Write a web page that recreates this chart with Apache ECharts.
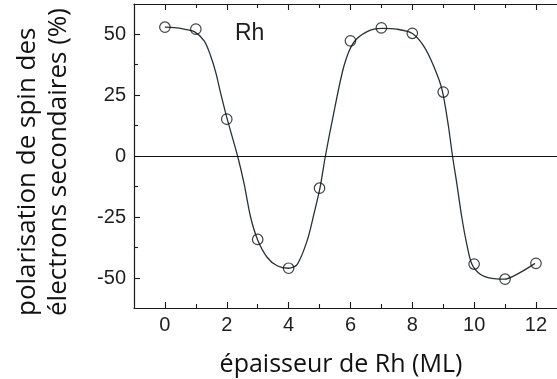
<!DOCTYPE html>
<html>
<head>
<meta charset="utf-8">
<script src="https://cdn.jsdelivr.net/npm/echarts@6/dist/echarts.min.js"></script>
<style>
html, body { margin: 0; padding: 0; background: #fff; }
#chart { width: 557px; height: 379px; }
</style>
</head>
<body>
<div id="chart"></div>
<script>
// mesures (cercles)
const dotX = [0, 1, 2, 3, 4, 5, 6, 7, 8, 9, 10, 11, 12];
const dotY = [52.8, 52, 15.1, -34.2, -46, -13.2, 47.2, 52.5, 50.3, 26.2, -44.3, -50.5, -44];

// courbe lissée
const curveX = [0, 0.3, 0.62, 0.95, 1.27, 1.48, 1.65, 1.8, 2.02, 2.35, 2.56, 2.77, 3.0, 3.31, 3.63, 4.0,
    4.28, 4.6, 4.82, 5.01, 5.19, 5.46, 5.79, 6.1, 6.54, 7.02, 7.5, 7.99, 8.36, 8.69, 8.96, 9.17,
    9.3, 9.44, 9.6, 9.76, 9.93, 10.2, 10.57, 10.97, 11.48, 11.97];
const curveY = [52.8, 52.6, 52, 51, 47.2, 41, 34, 25.9, 14.9, 0, -11.3, -25, -34.4, -41.6, -45, -46,
    -44.4, -34.7, -23.7, -13.4, 0, 17.6, 36.9, 46.5, 51, 52.3, 52, 50.3, 45.2, 36.9, 27.3, 12.1,
    0, -11.3, -25, -36, -44.4, -48.5, -50.2, -50.5, -47.8, -44];

const xMajorTicks = [0, 2, 4, 6, 8, 10, 12];
const xMinorTicks = [1, 3, 5, 7, 9, 11];
const yMajorTicks = [-50, -25, 0, 25, 50];
const yMinorTicks = [-37.5, -12.5, 12.5, 37.5];

let chart = echarts.init(document.getElementById('chart'));

const axisColor = '#1a1a1a';
const labelFont = {
    fontFamily: 'Liberation Sans',
    fontSize: 20,
    color: '#1e1e1e'
};

function xAx(pos, ticks, len, showLine, showLabel) {
    return {
        type: 'value',
        position: pos,
        min: -1,
        max: 12.68,
        axisLine: { show: showLine, onZero: false, lineStyle: { color: axisColor, width: 1.2 } },
        axisTick: { show: true, inside: true, length: len, customValues: ticks, lineStyle: { color: axisColor, width: 1.1 } },
        axisLabel: Object.assign({ show: showLabel, customValues: ticks, margin: 7 }, labelFont),
        splitLine: { show: false }
    };
}

function yAx(ticks, len, showLine, showLabel) {
    return {
        type: 'value',
        position: 'left',
        min: -62.3,
        max: 62.3,
        axisLine: { show: showLine, onZero: false, lineStyle: { color: axisColor, width: 1.2 } },
        axisTick: { show: true, inside: true, length: len, customValues: ticks, lineStyle: { color: axisColor, width: 1.1 } },
        axisLabel: Object.assign({ show: showLabel, customValues: ticks, margin: 8 }, labelFont),
        splitLine: { show: false }
    };
}

let option = {
    backgroundColor: '#fff',
    animation: false,
    grid: {
        left: 134,
        right: 0,
        top: 4,
        bottom: 71
    },
    xAxis: [
        xAx('bottom', xMajorTicks, 6, true, true),
        xAx('bottom', xMinorTicks, 4, false, false),
        xAx('top', xMajorTicks, 6, true, false),
        xAx('top', xMinorTicks, 4, false, false)
    ],
    yAxis: [
        yAx(yMajorTicks, 6, true, true),
        yAx(yMinorTicks, 4, false, false)
    ],
    graphic: [
        {
            type: 'text',
            left: 235,
            top: 22,
            style: { text: 'Rh', font: '23px "Liberation Sans"', fill: '#1e1e1e' }
        },
        {
            type: 'text',
            x: 43,
            y: 316,
            rotation: Math.PI / 2,
            style: {
                text: 'polarisation de spin des\nélectrons secondaires (%)',
                font: '26px "Open Sans"',
                fill: '#111',
                align: 'left',
                verticalAlign: 'middle',
                lineHeight: 31
            }
        },
        {
            type: 'text',
            x: 341,
            y: 365,
            style: {
                text: 'épaisseur de Rh (ML)',
                font: '25px "Open Sans"',
                fill: '#111',
                align: 'center',
                verticalAlign: 'middle'
            }
        }
    ],
    series: [
        {
            name: 'ajustement',
            type: 'line',
            xAxisIndex: 0,
            yAxisIndex: 0,
            data: curveX.map((x, i) => [x, curveY[i]]),
            showSymbol: false,
            smooth: 0.3,
            lineStyle: { color: '#263238', width: 1.3 },
            markLine: {
                silent: true,
                symbol: ['none', 'none'],
                label: { show: false },
                lineStyle: { color: '#111', type: 'solid', width: 1.2 },
                data: [{ yAxis: 0 }]
            },
            z: 2
        },
        {
            name: 'mesures',
            type: 'scatter',
            xAxisIndex: 0,
            yAxisIndex: 0,
            data: dotX.map((x, i) => [x, dotY[i]]),
            symbol: 'circle',
            symbolSize: 10.5,
            itemStyle: { color: 'transparent', borderColor: '#111', borderWidth: 1.2 },
            z: 3
        }
    ]
};

chart.setOption(option);
</script>
</body>
</html>
